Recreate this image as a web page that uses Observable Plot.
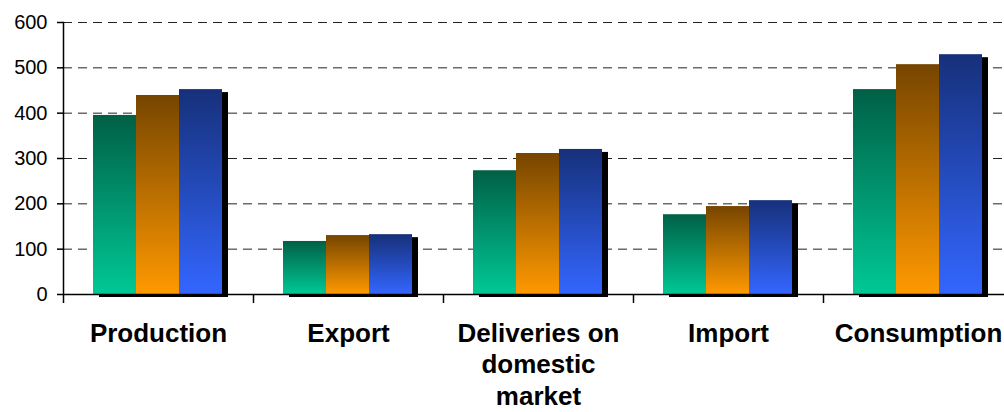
<!DOCTYPE html>
<html>
<head>
<meta charset="utf-8">
<script src="https://cdn.jsdelivr.net/npm/d3@7"></script>
<script src="https://cdn.jsdelivr.net/npm/@observablehq/plot@0.6"></script>
<style>
  html, body { margin: 0; padding: 0; background: white; overflow: hidden; }
</style>
</head>
<body>
<div id="chart"></div>
<script>
// ---- data ----
const categories = ["Production", "Export", "Deliveries on domestic market", "Import", "Consumption"];
const categoryLabels = ["Production", "Export", "Deliveries on\ndomestic\nmarket", "Import", "Consumption"];
const seriesNames = ["Series 1", "Series 2", "Series 3"];
const series1 = [395, 117, 273, 176, 452];
const series2 = [439, 130, 311, 194, 507];
const series3 = [452, 132, 320, 207, 529];
const yTicks = [0, 100, 200, 300, 400, 500, 600];

// ---- styling ----
const gradients = [
  {id: "gGreen", top: "#006046", bottom: "#00C896"},
  {id: "gOrange", top: "#764500", bottom: "#FF9900"},
  {id: "gBlue", top: "#16307A", bottom: "#3366FF"}
];
const bandW = 190, groupPad = 30, barW = 43;

const rows = categories.map((c, i) => ({i, c, v: [series1[i], series2[i], series3[i]]}));

function defsMark() {
  const ns = "http://www.w3.org/2000/svg";
  const defs = document.createElementNS(ns, "defs");
  for (const g of gradients) {
    const lg = document.createElementNS(ns, "linearGradient");
    lg.setAttribute("id", g.id);
    lg.setAttribute("x1", "0"); lg.setAttribute("x2", "0");
    lg.setAttribute("y1", "0"); lg.setAttribute("y2", "1");
    const s1 = document.createElementNS(ns, "stop");
    s1.setAttribute("offset", "0"); s1.setAttribute("stop-color", g.top);
    const s2 = document.createElementNS(ns, "stop");
    s2.setAttribute("offset", "1"); s2.setAttribute("stop-color", g.bottom);
    lg.appendChild(s1); lg.appendChild(s2);
    defs.appendChild(lg);
  }
  return defs;
}

function barOpts(k, extra) {
  const left = groupPad + k * barW;
  return Object.assign({
    x1: d => d.i,
    x2: d => d.i + 1,
    y1: 0,
    y2: d => d.v[k],
    insetLeft: left,
    insetRight: bandW - left - barW
  }, extra);
}

const marks = [defsMark];
marks.push(Plot.ruleY(yTicks.filter(t => t > 0), {stroke: "#222", strokeWidth: 1, strokeDasharray: "9,6"}));
// shadows
for (let k = 0; k < 3; k++) marks.push(Plot.rect(rows, barOpts(k, {fill: "black", dx: 6, dy: 3})));
// bars
for (let k = 0; k < 3; k++) marks.push(Plot.rect(rows, barOpts(k, {fill: `url(#${gradients[k].id})`})));
marks.push(Plot.ruleY([0], {stroke: "black", strokeWidth: 1.5}));
marks.push(Plot.frame({anchor: "left", stroke: "black", strokeWidth: 1.5}));
marks.push(Plot.axisY({ticks: yTicks, tickSize: 6, tickPadding: 10, fontSize: 20, stroke: "black", strokeWidth: 1.5}));
marks.push(Plot.axisX({ticks: d3.range(categories.length + 1), tickSize: 9, tickFormat: () => "", stroke: "black", strokeWidth: 1.5}));
marks.push(Plot.text(rows, {
  x: d => d.i + 0.5, y: 0, text: d => categoryLabels[d.i],
  dy: 25, lineAnchor: "top", fontSize: 26, fontWeight: "bold", lineHeight: 1.21, fill: "black"
}));

const chart = Plot.plot({
  width: 1004,
  height: 412,
  marginTop: 22,
  marginBottom: 118,
  marginLeft: 63,
  marginRight: 0,
  style: {fontFamily: "'Liberation Sans', Arial, sans-serif", background: "white", color: "black", overflow: "hidden"},
  x: {domain: [0, categories.length], range: [63, 63 + bandW * categories.length], axis: null},
  y: {domain: [0, 600], label: null, axis: null},
  marks
});
document.getElementById("chart").appendChild(chart);
</script>
</body>
</html>
